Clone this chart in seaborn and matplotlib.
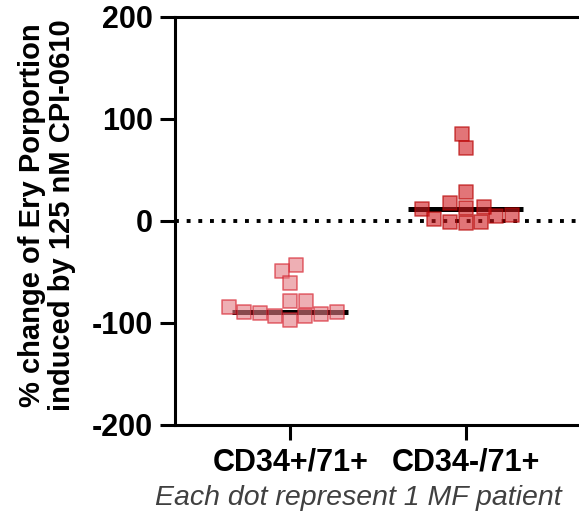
import numpy as np
import pandas as pd
import seaborn as sns
import matplotlib.pyplot as plt

# Values (one value per MF patient)
groups = ['CD34+/71+', 'CD34-/71+']
cd34pos_values = [-42.7, -48.6, -61.0, -78.8, -78.0, -93.5, -89.0, -91.0,
                  -89.0, -84.7, -96.8, -90.0, -93.0]
cd34neg_values = [85.7, 71.3, 28.7, 11.3, -0.5, 5.4, 13.0, -0.5, 17.2,
                  4.7, -1.8, 14.0, 2.2]
y_ticks = [-200, -100, 0, 100, 200]

fill_colors = {'CD34+/71+': '#E47B82', 'CD34-/71+': '#CF1A1E'}
edge_colors = {'CD34+/71+': '#D61E2B', 'CD34-/71+': '#B70000'}

df = pd.DataFrame({
    'group': [groups[0]] * len(cd34pos_values) + [groups[1]] * len(cd34neg_values),
    'value': cd34pos_values + cd34neg_values,
})

sns.set_style('ticks')
plt.rcParams['font.family'] = ['Liberation Sans', 'DejaVu Sans']
plt.rcParams['axes.unicode_minus'] = False
for key in ['text.color', 'axes.labelcolor', 'xtick.color', 'ytick.color', 'axes.edgecolor']:
    plt.rcParams[key] = 'black'

fig = plt.figure(figsize=(5.79, 5.2), dpi=100)
ax = fig.add_axes([175 / 579, 1 - 425 / 520, 1 - 175 / 579, (425 - 17) / 520])
ax.set_xlim(-0.657, 1.647)
ax.set_ylim(-200, 200)

# zero reference line
ax.axhline(0, color='black', linestyle=(0, (1, 2)), linewidth=2.8, zorder=1)

# median bars
for i, g in enumerate(groups):
    med = np.median(df.loc[df['group'] == g, 'value'])
    ax.hlines(med, i - 0.33, i + 0.33, color='black', linewidth=3.6, zorder=2)

# points
for g in groups:
    sns.swarmplot(data=df[df['group'] == g], x='group', y='value', order=groups,
                  marker='s', size=9.6, color=fill_colors[g],
                  edgecolor=edge_colors[g], linewidth=1.2, alpha=0.6,
                  ax=ax, zorder=3)

ax.set_xlim(-0.657, 1.647)
ax.set_ylim(-200, 200)
ax.set_yticks(y_ticks)
ax.set_xlabel('')
ax.set_ylabel('')

ax.spines['right'].set_visible(False)
for s in ['left', 'top', 'bottom']:
    ax.spines[s].set_linewidth(2.2)
ax.tick_params(axis='both', width=2.2, length=11, labelsize=22, pad=5)
for lab in ax.get_xticklabels() + ax.get_yticklabels():
    lab.set_fontweight('bold')

fig.text(47 / 579, 1 - 215 / 520,
         '% change of Ery Porportion\ninduced by 125 nM CPI-0610',
         rotation=90, ha='center', va='center', multialignment='center',
         fontsize=21, fontweight='bold', linespacing=1.1)

fig.text(358 / 579, 1 - 498 / 520, 'Each dot represent 1 MF patient',
         ha='center', va='center', fontsize=20.5, style='italic', color='#404040')

plt.savefig('out.png', dpi=100)
